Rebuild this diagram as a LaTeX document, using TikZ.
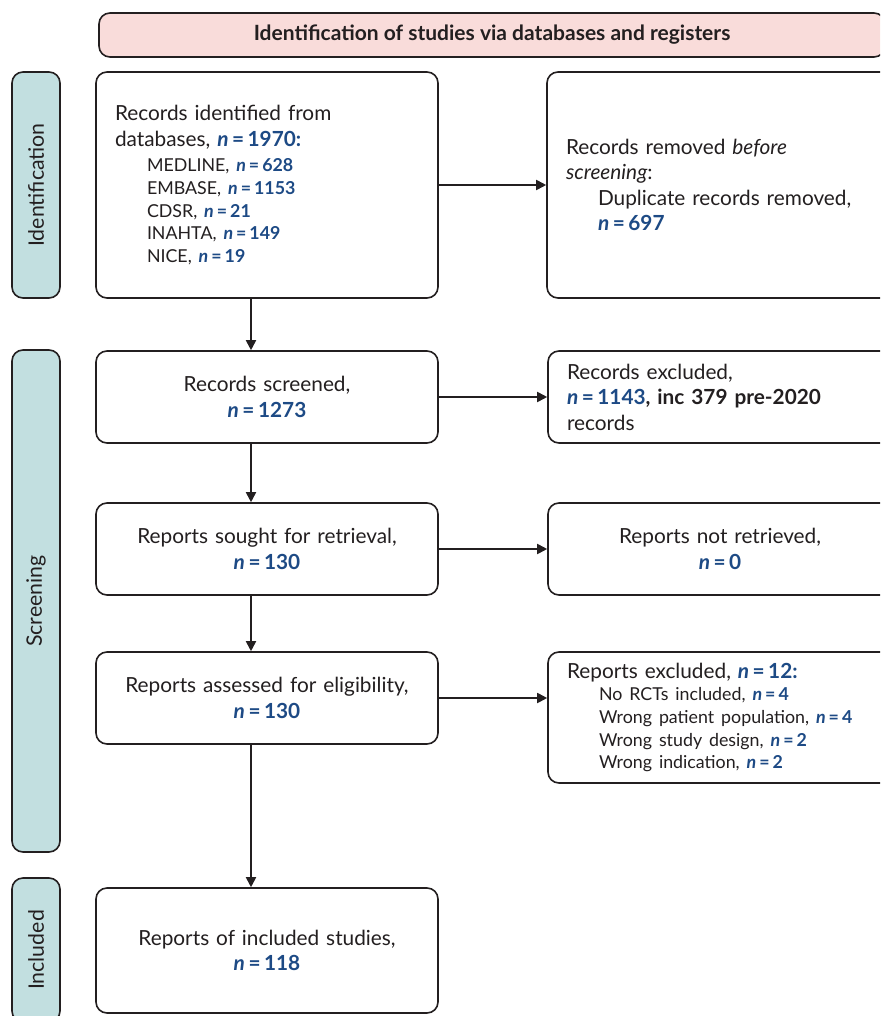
\documentclass[tikz,border=0pt]{standalone}
\usepackage{fontspec}
\setmainfont{Lato}
\usetikzlibrary{arrows.meta}
\definecolor{nblue}{HTML}{1D4A85}
\definecolor{ink}{HTML}{231F20}
\definecolor{sidefill}{HTML}{C2DFE0}
\definecolor{headfill}{HTML}{F9DCDA}
\newcommand{\nv}[1]{\textcolor{nblue}{\textbf{\textit{n}\hspace{0.17em}=\hspace{0.17em}#1}}}
\newcommand{\mainsz}{\fontsize{20.8}{25.5}\selectfont}
\newcommand{\subsz}{\fontsize{17.8}{22.6}\selectfont}
\newcommand{\ind}{\hspace*{32pt}}
\begin{document}
\begin{tikzpicture}[x=1pt,y=-1pt,
  box/.style={draw=ink,line width=1.6pt,rounded corners=11pt,fill=white,text=ink,inner sep=0pt,font=\mainsz},
  lbox/.style={box,align=left,inner xsep=19pt},
  cbox/.style={box,align=center,inner xsep=19pt},
  side/.style={draw=ink,line width=1.6pt,rounded corners=11pt,fill=sidefill,text=ink,rotate=90,inner sep=0pt,minimum height=48pt,font=\fontsize{21.3}{24}\selectfont},
  head/.style={draw=ink,line width=1.6pt,rounded corners=11pt,fill=headfill,text=ink,inner sep=0pt,font=\bfseries\fontsize{21}{24}\selectfont},
  arr/.style={draw=ink,line width=1.8pt,-{Triangle[length=10pt,width=10pt]}}
]
\useasboundingbox (0,0) rectangle (880,1016);
\clip (0,0) rectangle (880,1016);

\node[head,minimum width=786pt,minimum height=44pt] (header) at (492,35) {Identification of studies via databases and registers};

\node[side,minimum width=226pt] (sideid) at (36,185) {Identification};
\node[side,minimum width=502pt] (sidescr) at (36,601) {Screening};
\node[side,minimum width=144pt] (sideinc) at (36,950) {Included};

\node[lbox,text width=304pt,minimum height=226pt] (idbox) at (267,185) {%
Records identified from\\ databases, \nv{1970:}\par\vspace{3pt}
{\subsz\ind MEDLINE, \nv{628}\\ \ind EMBASE, \nv{1153}\\ \ind CDSR, \nv{21}\\ \ind INAHTA, \nv{149}\\ \ind NICE, \nv{19}\par}};

\node[lbox,text width=307pt,minimum height=226pt] (removed) at (719.5,185) {%
Records removed \textit{before}\\ \textit{screening}:\\ \ind Duplicate records removed,\\ \ind\nv{697}};

\node[cbox,text width=304pt,minimum height=92pt] (screened) at (267,397) {Records screened,\\ \nv{1273}};
\node[lbox,text width=306pt,minimum height=92pt] (recexcl) at (720,397) {%
Records excluded,\\ \nv{1143}\textbf{, inc 379 pre-2020}\\ records};

\node[cbox,text width=304pt,minimum height=92pt] (sought) at (267,549) {Reports sought for retrieval,\\ \nv{130}};
\node[cbox,text width=306pt,minimum height=92pt] (notret) at (720,549) {Reports not retrieved,\\ \nv{0}};

\node[cbox,text width=304pt,minimum height=92pt] (assessed) at (267,698) {Reports assessed for eligibility,\\ \nv{130}};
\node[lbox,text width=306pt,minimum height=131pt] (repexcl) at (720,717.5) {%
Reports excluded, \nv{12:}\par
{\subsz\ind No RCTs included, \nv{4}\\ \ind Wrong patient population, \nv{4}\\ \ind Wrong study design, \nv{2}\\ \ind Wrong indication, \nv{2}\par}};

\node[cbox,text width=304pt,minimum height=125pt] (included) at (267,950.5) {Reports of included studies,\\ \nv{118}};

\coordinate (ax) at (251,0);
\draw[arr] (idbox.south -| ax) -- (screened.north -| ax);
\draw[arr] (screened.south -| ax) -- (sought.north -| ax);
\draw[arr] (sought.south -| ax) -- (assessed.north -| ax);
\draw[arr] (assessed.south -| ax) -- (included.north -| ax);
\draw[arr] (idbox.east) -- (removed.west |- idbox.east);
\draw[arr] (screened.east) -- (recexcl.west |- screened.east);
\draw[arr] (sought.east) -- (notret.west |- sought.east);
\draw[arr] (assessed.east) -- (repexcl.west |- assessed.east);
\end{tikzpicture}
\end{document}
